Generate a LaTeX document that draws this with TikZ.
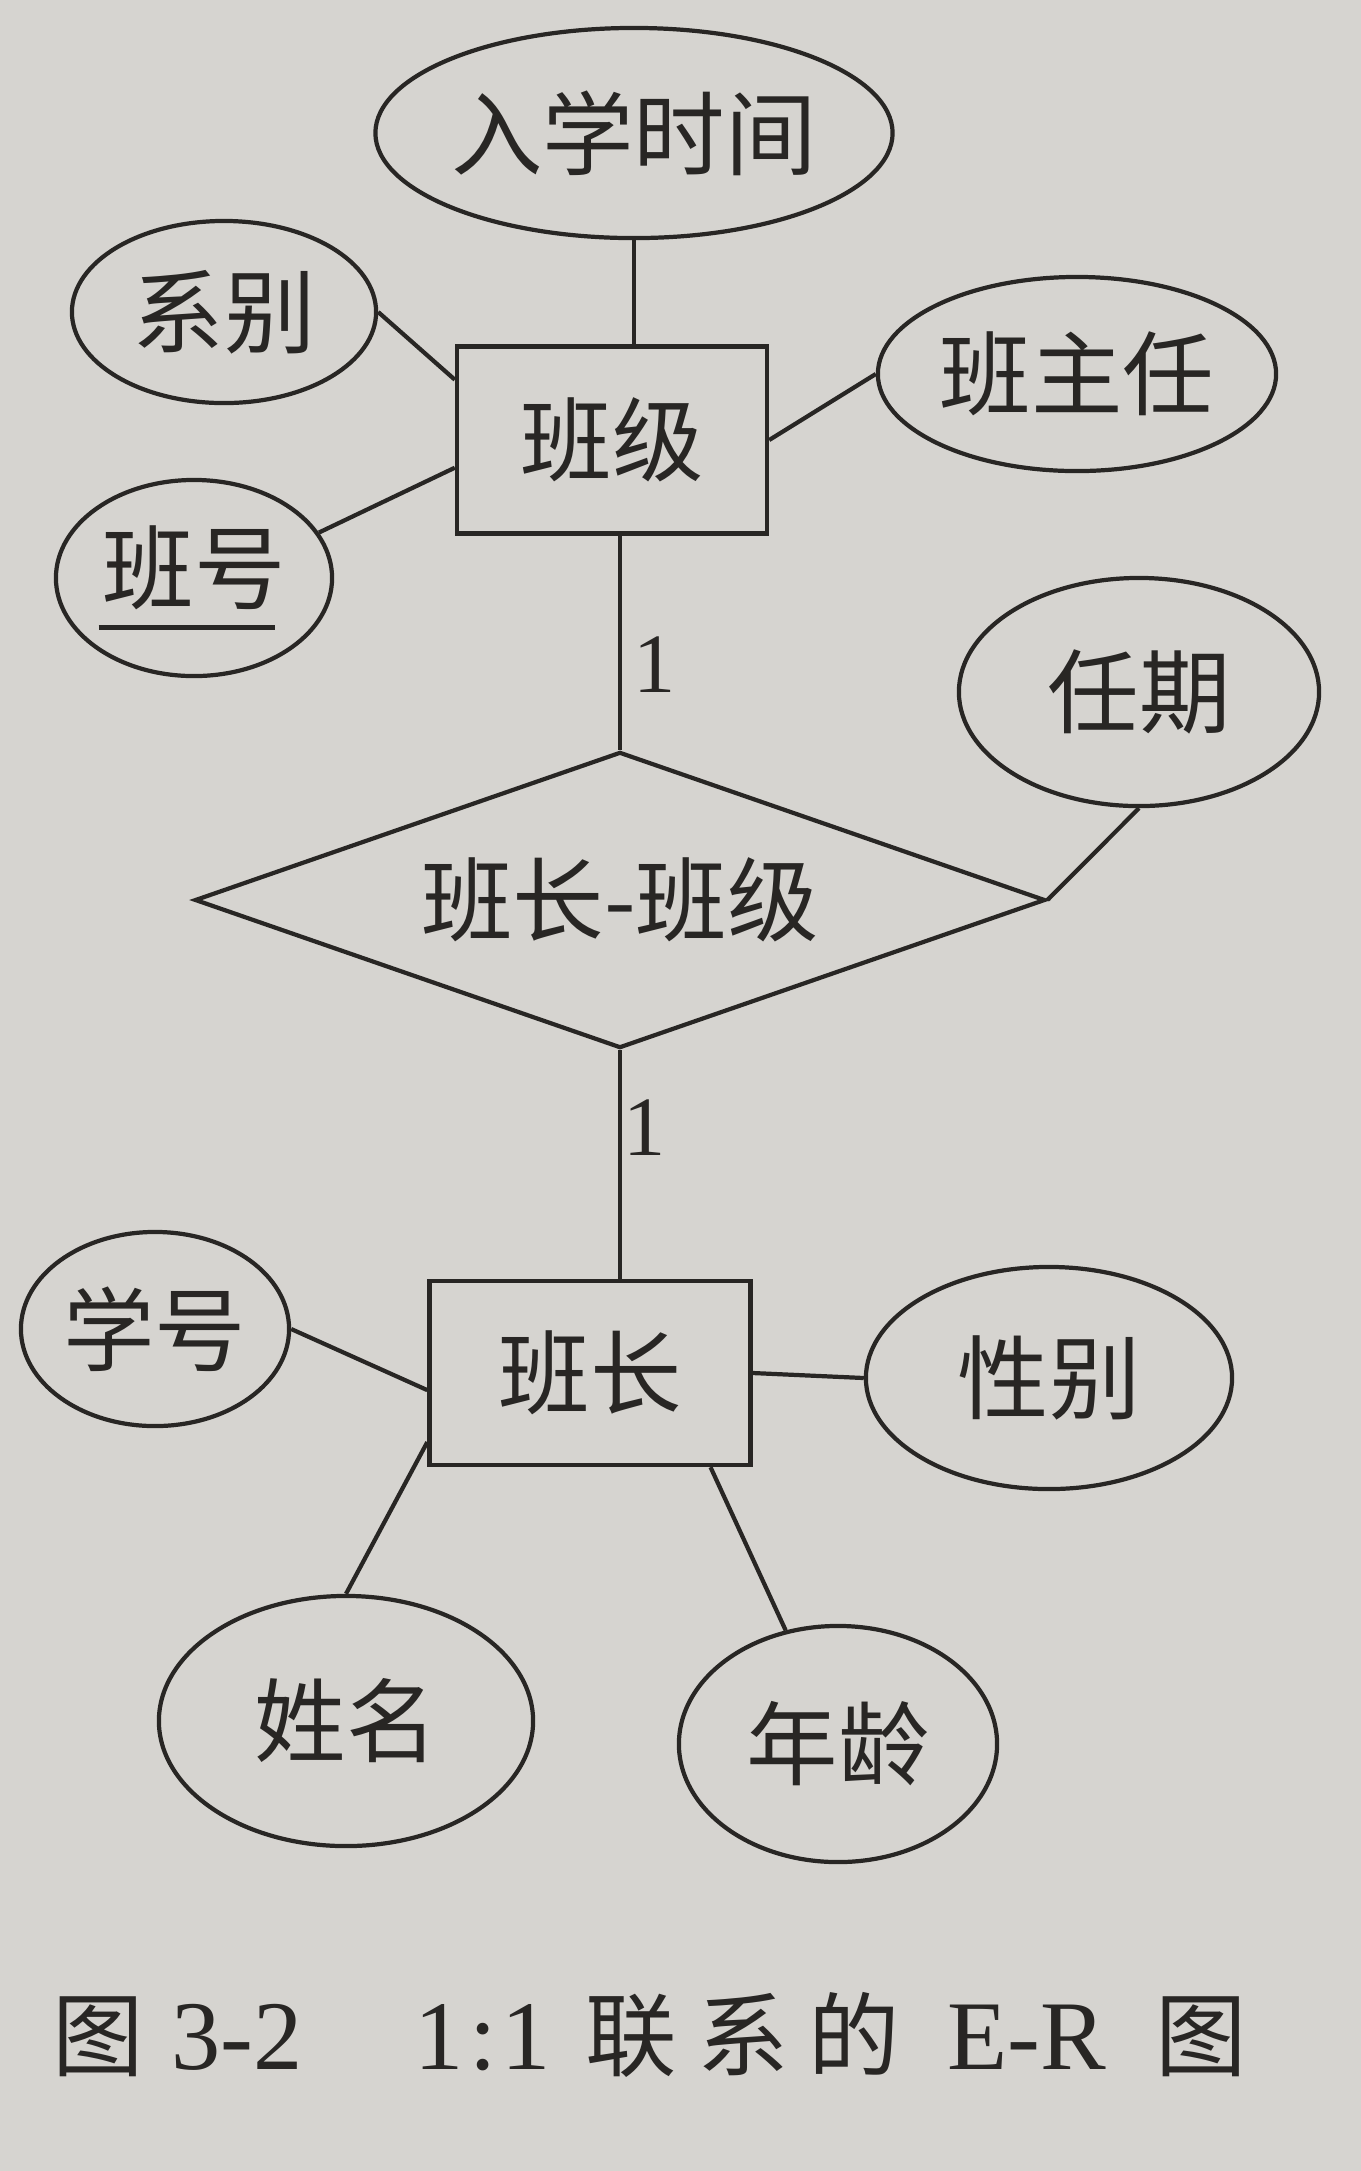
\documentclass[tikz,border=0pt]{standalone}
\usepackage{fontspec}
\setmainfont{Liberation Serif}
\newfontfamily\cjk{Noto Sans CJK SC}
\usetikzlibrary{shapes.geometric}
\definecolor{paper}{RGB}{214,212,208}
\definecolor{ink}{RGB}{40,38,36}
\begin{document}
\begin{tikzpicture}[x=0.01cm,y=-0.01cm,line width=1.2pt,draw=ink,text=ink,
  attr/.style={ellipse,draw=ink,inner sep=0pt,font=\cjk\fontsize{26}{30}\selectfont},
  ent/.style={rectangle,draw=ink,inner sep=0pt,font=\cjk\fontsize{26}{30}\selectfont},
  relship/.style={diamond,draw=ink,inner sep=0pt,aspect=2.87,font=\cjk\fontsize{26}{30}\selectfont},
  card/.style={inner sep=0pt,font=\fontsize{24}{28}\selectfont}]
\fill[paper] (0,0) rectangle (1361,2171);
\useasboundingbox (0,0) rectangle (1361,2171);
% entities
\node[ent,minimum width=3.10cm,minimum height=1.87cm] (bj) at (612,440) {班级};
\node[ent,minimum width=3.21cm,minimum height=1.84cm] (bz) at (590,1373) {班长};
% relationship
\node[relship,minimum width=8.50cm,minimum height=2.96cm] (rel) at (620,900) {班长-班级};
% attributes
\node[attr,minimum width=4.92cm,minimum height=2.10cm] (rxsj) at (634,133) {入学时间};
\node[attr,minimum width=3.04cm,minimum height=1.82cm] (xbie) at (224,312) {系别};
\node[attr,minimum width=3.98cm,minimum height=1.94cm] (bzr) at (1077,374) {班主任};
\node[attr,minimum width=2.76cm,minimum height=1.96cm] (bh) at (194,578)
  {\makebox[0pt][l]{\hspace{-0.04cm}\rule[-0.27cm]{1.76cm}{1.3pt}}班号};
\node[attr,minimum width=3.60cm,minimum height=2.28cm] (rq) at (1139,692) {任期};
\node[attr,minimum width=2.68cm,minimum height=1.94cm] (xh) at (155,1329) {学号};
\node[attr,minimum width=3.66cm,minimum height=2.22cm] (xb) at (1049,1378) {性别};
\node[attr,minimum width=3.74cm,minimum height=2.50cm] (xm) at (346,1721) {姓名};
\node[attr,minimum width=3.18cm,minimum height=2.36cm] (nl) at (838,1744) {年龄};
% cardinalities
\node[card] (c1) at (655,665) {1};
\node[card] (c2) at (645,1128) {1};
% connectors
\draw (rxsj.south) -- (rxsj.south |- bj.north);
\draw (xbie.east) -- (bj.159);
\draw (bh.20) -- (bj.190);
\draw (bzr.west) -- (bj.east);
\draw (rel.north) -- (rel.north |- bj.south);
\draw (rq.south) -- (rel.east);
\draw (rel.south) -- (rel.south |- bz.north);
\draw (xh.east) -- (bz.186);
\draw (bz.east) -- (xb.west);
\draw (bz.203) -- (xm.north);
\draw (bz.-38) -- (nl);
% caption
\node[anchor=west,inner sep=0pt,font=\fontsize{28}{32}\selectfont] (cap) at (50,2035)
  {{\cjk\fontsize{26}{30}\selectfont 图}\hspace{0.28cm}3-2\hspace{1.12cm}1\hspace{0.05cm}:\hspace{0.05cm}1\hspace{0.35cm}{\cjk\fontsize{26}{30}\selectfont 联\hspace{0.2cm}系\hspace{0.2cm}的}\hspace{0.47cm}E-R\hspace{0.5cm}{\cjk\fontsize{26}{30}\selectfont 图}};
\end{tikzpicture}
\end{document}
